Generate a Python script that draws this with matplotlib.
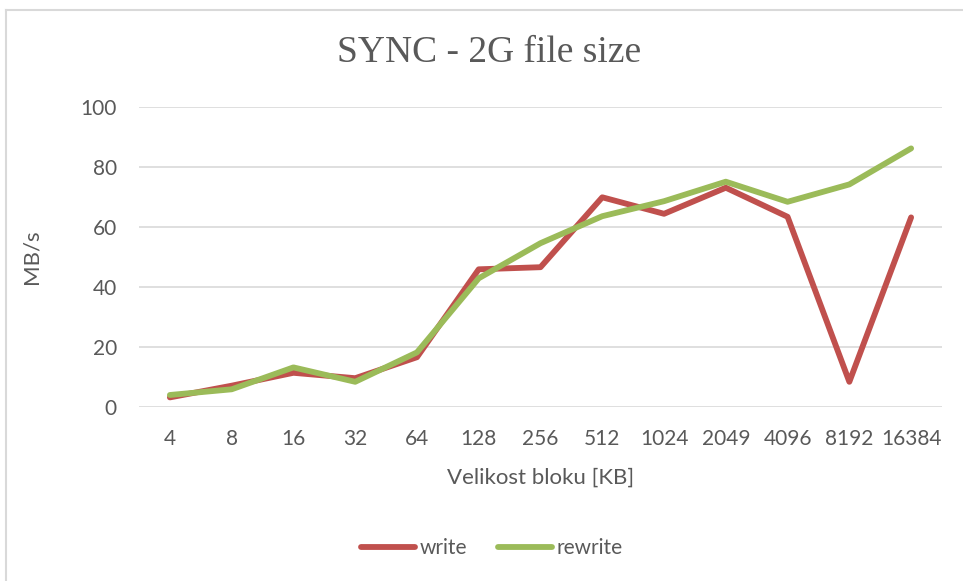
import matplotlib.pyplot as plt
from matplotlib.lines import Line2D

# block sizes (KB) and throughput (MB/s)
block_sizes = ['4', '8', '16', '32', '64', '128', '256', '512', '1024', '2049', '4096', '8192', '16384']
write = [3.2, 7.1, 11.4, 9.6, 16.6, 45.9, 46.6, 69.9, 64.4, 73.1, 63.4, 8.4, 63.2]
rewrite = [4.0, 5.9, 13.2, 8.4, 18.2, 42.9, 54.6, 63.6, 68.6, 75.1, 68.4, 74.2, 86.2]

txt = '#595959'
plt.rcParams['font.family'] = ['Lato', 'DejaVu Sans']

fig = plt.figure(figsize=(9.63, 5.81), dpi=100)
ax = fig.add_axes([139 / 963, 1 - 407 / 581, 803 / 963, 300 / 581])

x = range(len(block_sizes))
ax.plot(x, write, color='#C0504D', linewidth=4.2, solid_capstyle='round', solid_joinstyle='round', label='write')
ax.plot(x, rewrite, color='#9BBB59', linewidth=4.2, solid_capstyle='round', solid_joinstyle='round', label='rewrite')

ax.set_xlim(-0.5, len(block_sizes) - 0.5)
ax.set_ylim(0, 100)
ax.set_yticks([0, 20, 40, 60, 80, 100])
ax.set_xticks(list(x))
ax.set_xticklabels(block_sizes)
ax.grid(axis='y', color='#d9d9d9', linewidth=1.2)
ax.set_axisbelow(True)
for s in ax.spines.values():
    s.set_visible(False)
ax.tick_params(axis='both', length=0, labelsize=15, labelcolor=txt)
ax.tick_params(axis='y', pad=16)
ax.tick_params(axis='x', pad=16)

ax.set_ylabel('MB/s', fontsize=16, color=txt, labelpad=28)
ax.set_xlabel('Velikost bloku [KB]', fontsize=16, color=txt, labelpad=13)

fig.text(489 / 963, 1 - 53 / 581, 'SYNC - 2G file size', family='Liberation Serif',
         fontsize=27, color=txt, ha='center', va='center')

ax.legend(loc='center', bbox_to_anchor=(492 / 963, 1 - 548 / 581), bbox_transform=fig.transFigure,
          ncol=2, frameon=False, fontsize=15, labelcolor=txt, handlelength=2.6,
          handletextpad=0.2, columnspacing=1.5)

# chart frame (cropped on right and bottom)
fig.add_artist(Line2D([6 / 963, 6 / 963], [0, 1 - 10 / 581], transform=fig.transFigure, color='#d9d9d9', linewidth=1.5))
fig.add_artist(Line2D([6 / 963, 1], [1 - 10 / 581, 1 - 10 / 581], transform=fig.transFigure, color='#d9d9d9', linewidth=1.5))

fig.savefig('out.png', dpi=100)
